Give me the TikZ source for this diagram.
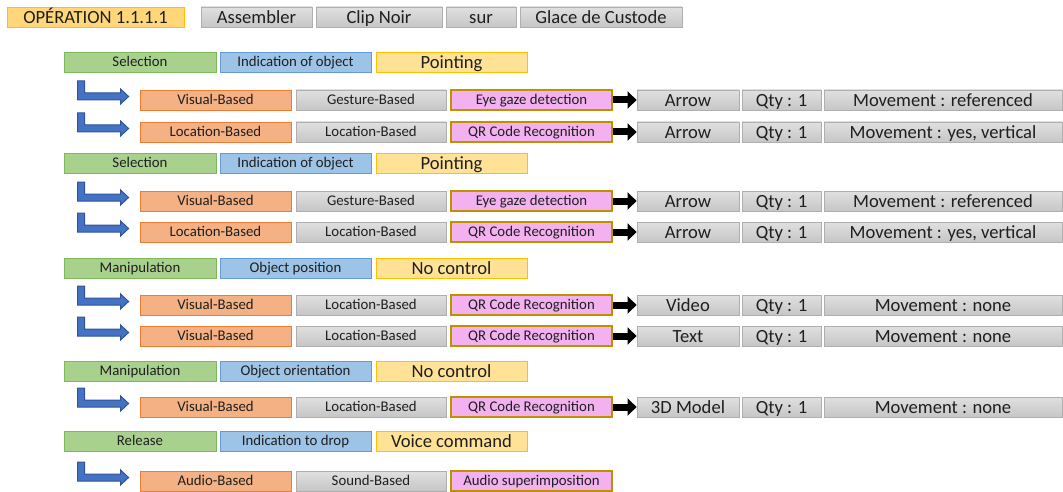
\documentclass[tikz,border=0pt]{standalone}
\usepackage{fontspec}
\setmainfont{Carlito}
\usepackage{tikz}
\usetikzlibrary{arrows.meta, calc}
\definecolor{headOrange}{RGB}{255, 215, 120}
\definecolor{techOrange}{RGB}{255, 226, 150}
\definecolor{edgeOrange}{RGB}{255, 192, 0}
\definecolor{catGreen}{RGB}{169, 209, 142}
\definecolor{edgeGreen}{RGB}{125, 185, 90}
\definecolor{taskBlue}{RGB}{157, 195, 230}
\definecolor{edgeBlue}{RGB}{100, 155, 213}
\definecolor{modSalmon}{RGB}{244, 177, 131}
\definecolor{edgeSalmon}{RGB}{237, 125, 49}
\definecolor{detPink}{RGB}{243, 177, 240}
\definecolor{edgeGold}{RGB}{191, 144, 0}
\definecolor{grayTop}{RGB}{224, 224, 224}
\definecolor{grayBot}{RGB}{198, 198, 198}
\definecolor{edgeGray}{RGB}{175, 175, 175}
\definecolor{arrBlue}{RGB}{68, 114, 196}
\definecolor{arrBlueDark}{RGB}{47, 85, 151}
\newcommand{\bentarr}[1]{\draw[bent_arrow, shift={(#1.west)}]
	(-62,-19) -- (-55,-19) -- (-55,-7) -- (-19,-7) -- (-19,-11) -- (-11,-3.5)
	-- (-19,4) -- (-19,0) -- (-62,0) -- cycle;}
\begin{document}
\begin{tikzpicture}[x=1pt, y=-1pt,
				box/.style       = {rectangle, inner sep=0pt, minimum height=20pt,
					text=black!88, line width=0.8pt},
				big_txt/.style   = {font=\fontsize{18.6}{20}\selectfont, text height=12.8pt, text depth=0.5pt},
				small_txt/.style = {font=\fontsize{14.8}{17}\selectfont, text height=10pt, text depth=0.5pt},
				op_head/.style   = {box, big_txt, draw=edgeOrange, fill=headOrange, minimum width=177pt},
				word_box/.style  = {box, big_txt, draw=edgeGray, top color=grayTop, bottom color=grayBot},
				cat_box/.style   = {box, small_txt, draw=edgeGreen, fill=catGreen, minimum width=152pt},
				task_box/.style  = {box, small_txt, draw=edgeBlue, fill=taskBlue, minimum width=151pt},
				tech_box/.style  = {box, big_txt, draw=edgeOrange, fill=techOrange, minimum width=151pt},
				mod_box/.style   = {box, small_txt, draw=edgeSalmon, fill=modSalmon, minimum width=151pt},
				sense_box/.style = {box, small_txt, draw=edgeGray, top color=grayTop, bottom color=grayBot,
					minimum width=150pt},
				det_box/.style   = {box, small_txt, draw=edgeGold, fill=detPink, line width=1.3pt,
					minimum width=161pt},
				out_box/.style   = {word_box, minimum width=102pt},
				qty_box/.style   = {word_box, minimum width=79pt},
				mov_box/.style   = {word_box, minimum width=238pt},
				line/.style      = {line width=7pt, -{Triangle[length=9pt, width=17pt]}},
				bent_arrow/.style = {draw=arrBlueDark, fill=arrBlue, line width=1pt, line join=miter}
				]
				\useasboundingbox (0,0) rectangle (1063,492);
				
				% operation header
				\node[op_head] (op) at (95.5,17) {OPÉRATION 1.1.1.1};
				\node[word_box, minimum width=111pt] (verb) at (256.5,17) {Assembler};
				\node[word_box, minimum width=126pt] (part) at (379,17) {Clip Noir};
				\node[word_box, minimum width=70pt] (prep) at (481,17) {sur};
				\node[word_box, minimum width=162pt] (target) at (601,17) {Glace de Custode};
				
				% selection 1
				\node[cat_box] (cat1) at (140,62) {Selection};
				\node[task_box] (task1) at (295.5,62) {Indication of object};
				\node[tech_box] (tech1) at (451.5,62) {Pointing};
				
				\node[mod_box] (mod1a) at (215.5,100) {Visual-Based};
				\node[sense_box] (sense1a) at (371,100) {Gesture-Based};
				\node[det_box] (det1a) at (531.5,100) {Eye gaze detection};
				\node[out_box] (out1a) at (688,100) {Arrow};
				\node[qty_box] (qty1a) at (781.5,100) {Qty : 1};
				\node[mov_box] (mov1a) at (943,100) {Movement : referenced};
				
				\node[mod_box] (mod1b) at (215.5,132) {Location-Based};
				\node[sense_box] (sense1b) at (371,132) {Location-Based};
				\node[det_box] (det1b) at (531.5,132) {QR Code Recognition};
				\node[out_box] (out1b) at (688,132) {Arrow};
				\node[qty_box] (qty1b) at (781.5,132) {Qty : 1};
				\node[mov_box] (mov1b) at (943,132) {Movement : yes, vertical};
				
				% selection 2
				\node[cat_box] (cat2) at (140,163) {Selection};
				\node[task_box] (task2) at (295.5,163) {Indication of object};
				\node[tech_box] (tech2) at (451.5,163) {Pointing};
				
				\node[mod_box] (mod2a) at (215.5,201) {Visual-Based};
				\node[sense_box] (sense2a) at (371,201) {Gesture-Based};
				\node[det_box] (det2a) at (531.5,201) {Eye gaze detection};
				\node[out_box] (out2a) at (688,201) {Arrow};
				\node[qty_box] (qty2a) at (781.5,201) {Qty : 1};
				\node[mov_box] (mov2a) at (943,201) {Movement : referenced};
				
				\node[mod_box] (mod2b) at (215.5,232) {Location-Based};
				\node[sense_box] (sense2b) at (371,232) {Location-Based};
				\node[det_box] (det2b) at (531.5,232) {QR Code Recognition};
				\node[out_box] (out2b) at (688,232) {Arrow};
				\node[qty_box] (qty2b) at (781.5,232) {Qty : 1};
				\node[mov_box] (mov2b) at (943,232) {Movement : yes, vertical};
				
				% manipulation 1
				\node[cat_box] (cat3) at (140,268) {Manipulation};
				\node[task_box] (task3) at (295.5,268) {Object position};
				\node[tech_box] (tech3) at (451.5,268) {No control};
				
				\node[mod_box] (mod3a) at (215.5,305) {Visual-Based};
				\node[sense_box] (sense3a) at (371,305) {Location-Based};
				\node[det_box] (det3a) at (531.5,305) {QR Code Recognition};
				\node[out_box] (out3a) at (688,305) {Video};
				\node[qty_box] (qty3a) at (781.5,305) {Qty : 1};
				\node[mov_box] (mov3a) at (943,305) {Movement : none};
				
				\node[mod_box] (mod3b) at (215.5,336) {Visual-Based};
				\node[sense_box] (sense3b) at (371,336) {Location-Based};
				\node[det_box] (det3b) at (531.5,336) {QR Code Recognition};
				\node[out_box] (out3b) at (688,336) {Text};
				\node[qty_box] (qty3b) at (781.5,336) {Qty : 1};
				\node[mov_box] (mov3b) at (943,336) {Movement : none};
				
				% manipulation 2
				\node[cat_box] (cat4) at (140,371) {Manipulation};
				\node[task_box] (task4) at (295.5,371) {Object orientation};
				\node[tech_box] (tech4) at (451.5,371) {No control};
				
				\node[mod_box] (mod4a) at (215.5,407) {Visual-Based};
				\node[sense_box] (sense4a) at (371,407) {Location-Based};
				\node[det_box] (det4a) at (531.5,407) {QR Code Recognition};
				\node[out_box] (out4a) at (688,407) {3D Model};
				\node[qty_box] (qty4a) at (781.5,407) {Qty : 1};
				\node[mov_box] (mov4a) at (943,407) {Movement : none};
				
				% release
				\node[cat_box] (cat5) at (140,441) {Release};
				\node[task_box] (task5) at (295.5,441) {Indication to drop};
				\node[tech_box] (tech5) at (451.5,441) {Voice command};
				
				\node[mod_box] (mod5a) at (215.5,481) {Audio-Based};
				\node[sense_box] (sense5a) at (371,481) {Sound-Based};
				\node[det_box] (det5a) at (531.5,481) {Audio superimposition};
				
				% arrows
				\bentarr{mod1a} \bentarr{mod1b} \bentarr{mod2a} \bentarr{mod2b}
				\bentarr{mod3a} \bentarr{mod3b} \bentarr{mod4a} \bentarr{mod5a}
				
				\draw[line] (det1a) -- (out1a);
				\draw[line] (det1b) -- (out1b);
				\draw[line] (det2a) -- (out2a);
				\draw[line] (det2b) -- (out2b);
				\draw[line] (det3a) -- (out3a);
				\draw[line] (det3b) -- (out3b);
				\draw[line] (det4a) -- (out4a);
			\end{tikzpicture}
\end{document}
